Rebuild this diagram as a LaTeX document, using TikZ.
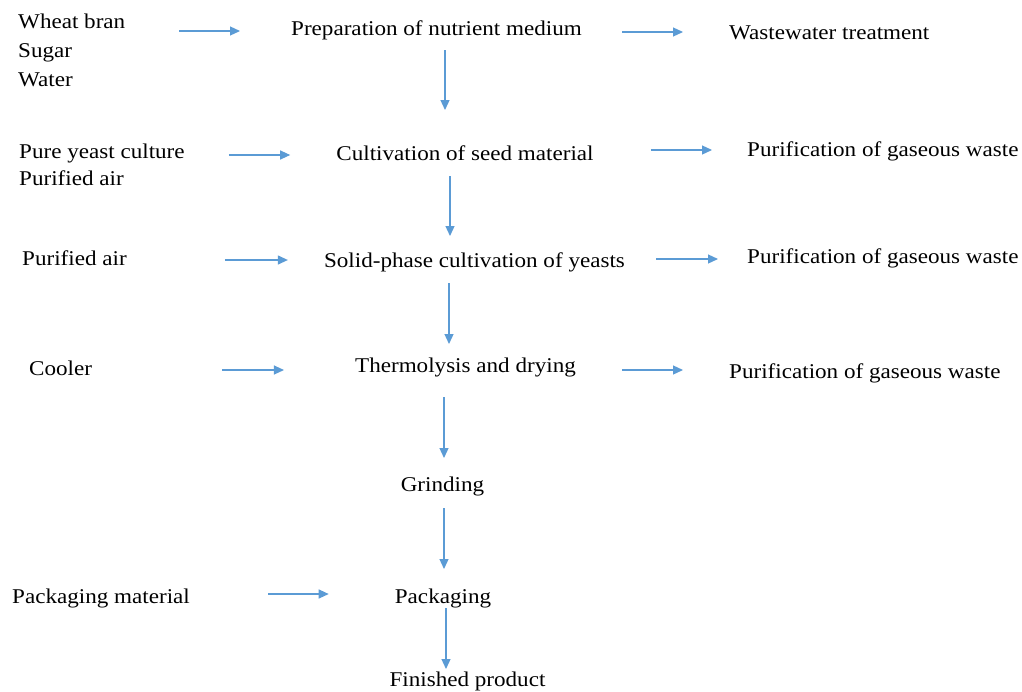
\documentclass[tikz,border=0pt]{standalone}
\usepackage{fontspec}
\setmainfont{Liberation Serif}[FakeStretch=1.1]
\usetikzlibrary{arrows.meta}
\definecolor{arrblue}{HTML}{5B9BD5}
\begin{document}
\begin{tikzpicture}[x=1pt,y=-1pt,
  txt/.style={inner sep=0pt,font=\fontsize{21}{25}\selectfont},
  lft/.style={txt,anchor=base west},
  mid/.style={txt,anchor=base},
  arr/.style={draw=arrblue,line width=1.2pt,-{Triangle[length=10pt,width=9pt]}}]
\useasboundingbox[fill=white] (0,0) rectangle (1022,691);
% row 1
\node[lft] (wheat) at (18,28) {Wheat bran};
\node[lft] (sugar) at (18,57) {Sugar};
\node[lft] (water) at (18,86) {Water};
\node[mid] (prep) at (436.5,35) {Preparation of nutrient medium};
\node[lft] (waste) at (729,39) {Wastewater treatment};
% row 2
\node[lft] (pure) at (19,158) {Pure yeast culture};
\node[lft] (air1) at (19,185) {Purified air};
\node[mid] (cult) at (465,160) {Cultivation of seed material};
\node[lft] (gas1) at (747,156) {Purification of gaseous waste};
% row 3
\node[lft] (air2) at (22,265) {Purified air};
\node[mid] (solid) at (474.5,267) {Solid-phase cultivation of yeasts};
\node[lft] (gas2) at (747,263) {Purification of gaseous waste};
% row 4
\node[lft] (cooler) at (29,375) {Cooler};
\node[mid] (thermo) at (465.5,372) {Thermolysis and drying};
\node[lft] (gas3) at (729,378) {Purification of gaseous waste};
% lower
\node[mid] (grind) at (442.5,491) {Grinding};
\node[lft] (packmat) at (12,603) {Packaging material};
\node[mid] (pack) at (443,603) {Packaging};
\node[mid] (fin) at (467.5,686) {Finished product};
% axis coordinates for vertical arrows
\coordinate (ax1) at (445,0);
\coordinate (ax2) at (450,0);
\coordinate (ax3) at (449,0);
\coordinate (ax4) at (444,0);
\coordinate (ax6) at (446,0);
% horizontal arrows
\draw[arr,shorten <=54pt,shorten >=51pt] ([yshift=4pt]wheat.east |- prep.base) -- ([yshift=4pt]prep.base west);
\draw[arr,shorten <=40pt,shorten >=46pt] ([yshift=3pt]prep.base east) -- ([yshift=3pt]waste.west |- prep.base);
\draw[arr,shorten <=44pt,shorten >=46pt] ([yshift=5pt]pure.east |- cult.base) -- ([yshift=5pt]cult.base west);
\draw[arr,shorten <=57pt,shorten >=35pt] ([yshift=10pt]cult.base east) -- ([yshift=10pt]gas1.west |- cult.base);
\draw[arr,shorten <=98pt,shorten >=36pt] ([yshift=7pt]air2.east |- solid.base) -- ([yshift=7pt]solid.base west);
\draw[arr,shorten <=31pt,shorten >=29pt] ([yshift=8pt]solid.base east) -- ([yshift=8pt]gas2.west |- solid.base);
\draw[arr,shorten <=130pt,shorten >=71pt] ([yshift=2pt]cooler.east |- thermo.base) -- ([yshift=2pt]thermo.base west);
\draw[arr,shorten <=46pt,shorten >=46pt] ([yshift=2pt]thermo.base east) -- ([yshift=2pt]gas3.west |- thermo.base);
\draw[arr,shorten <=78pt,shorten >=66pt] ([yshift=9pt]packmat.east |- pack.base) -- ([yshift=9pt]pack.base west);
% vertical arrows
\draw[arr,shorten <=15pt,shorten >=50pt] (prep.base -| ax1) -- (cult.base -| ax1);
\draw[arr,shorten <=16pt,shorten >=31pt] (cult.base -| ax2) -- (solid.base -| ax2);
\draw[arr,shorten <=16pt,shorten >=28pt] (solid.base -| ax3) -- (thermo.base -| ax3);
\draw[arr,shorten <=25pt,shorten >=33pt] (thermo.base -| ax4) -- (grind.base -| ax4);
\draw[arr,shorten <=17pt,shorten >=34pt] (grind.base -| ax4) -- (pack.base -| ax4);
\draw[arr,shorten <=5pt,shorten >=17pt] (pack.base -| ax6) -- (fin.base -| ax6);
\end{tikzpicture}
\end{document}
